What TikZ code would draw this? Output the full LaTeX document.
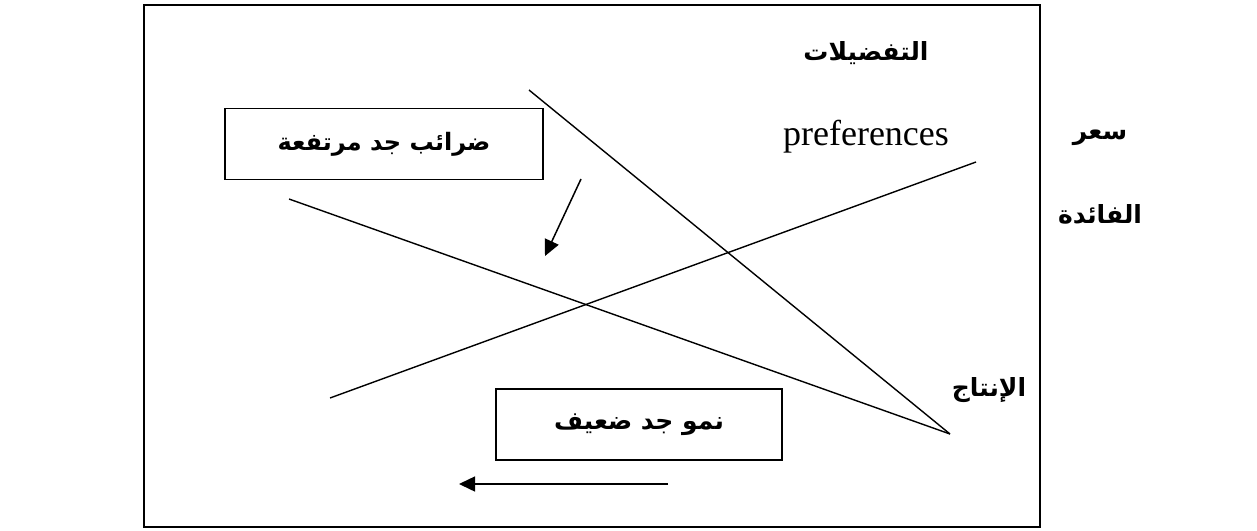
\documentclass[tikz,border=0pt]{standalone}
\usepackage{fontspec}
\setmainfont{Liberation Serif}
\newfontfamily\arabicfont[Script=Arabic]{DejaVu Sans}
\TeXXeTstate=1
\usetikzlibrary{arrows.meta}
\tikzset{
  frameline/.style={draw=black, line width=2pt},
  curve/.style={draw=black, line width=1.4pt},
  labelbox/.style={draw=black, line width=1.8pt, minimum width=#1, minimum height=71pt, inner sep=0pt},
  artext/.style={font=\arabicfont\bfseries\fontsize{25}{30}\selectfont},
  arrowline/.style={draw=black, line width=1.5pt, -{Triangle[length=16pt,width=15pt]}}
}
\begin{document}
\begin{tikzpicture}[x=1pt,y=-1pt]
\useasboundingbox (0,0) rectangle (1257,530);
% frame
\draw[frameline] (144,5) rectangle (1040,527);
% boxes
\node[labelbox=318pt, artext, font=\arabicfont\bfseries\fontsize{24}{28}\selectfont] (tax) at (384,144) {\beginR ضرائب جد مرتفعة\endR};
\node[labelbox=286pt, artext] (growth) at (639,424.5) {\beginR نمو جد ضعيف\endR};
% labels
\node[artext] (pref) at (866,53) {\beginR التفضيلات\endR};
\node[font=\fontsize{36}{40}\selectfont] (prefen) at (866,137) {preferences};
\node[artext] (prod) at (989,390) {\beginR الإنتاج\endR};
\node[artext] (rate1) at (1100,138) {\beginR سعر\endR};
\node[artext] (rate2) at (1100,214) {\beginR الفائدة\endR};
% curves
\coordinate (s1) at (529,90);
\coordinate (p) at (950,434);
\coordinate (d1) at (289,199);
\coordinate (r1) at (330,398);
\coordinate (r2) at (976,162);
\draw[curve] (s1) -- (p);
\draw[curve] (d1) -- (p);
\draw[curve] (r1) -- (r2);
% arrows
\coordinate (a1) at (581,179);
\coordinate (a2) at (545,256);
\draw[arrowline] (a1) -- (a2);
\coordinate (b1) at (668,484);
\coordinate (b2) at (459,484);
\draw[arrowline] (b1) -- (b2);
\end{tikzpicture}
\end{document}
